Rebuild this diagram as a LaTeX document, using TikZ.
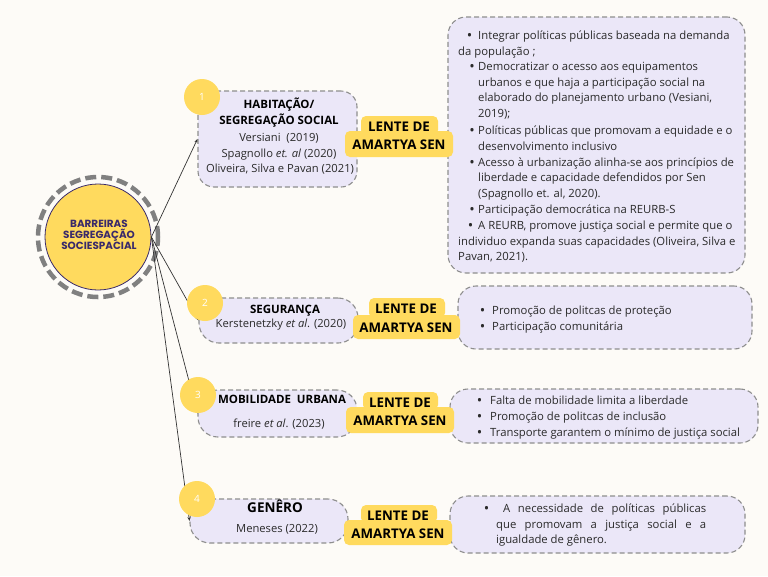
\documentclass[tikz,border=0pt]{standalone}
\usepackage{fontspec}
\setmainfont{Open Sans}
\newfontfamily\popfont{Poppins}
\usetikzlibrary{arrows.meta}
\definecolor{bg}{HTML}{FDFBF7}
\definecolor{lav}{HTML}{EBE7F8}
\definecolor{dashc}{HTML}{8E8E8E}
\definecolor{yel}{HTML}{FFDA5E}
\definecolor{pur}{HTML}{3A2A6A}
\definecolor{ringc}{HTML}{808080}
\definecolor{txt}{HTML}{2A2A2A}
\newcommand\bul[1]{\llap{\raisebox{-0.9pt}{\fontsize{14.5}{14}\selectfont•}\hspace{#1}}}
\tikzset{
  box/.style={rectangle, draw=dashc, dash pattern=on 5pt off 3pt, line width=1.1pt, fill=lav, rounded corners=16pt, inner sep=0},
  num/.style={circle, fill=yel, minimum size=36pt, inner sep=0, text=white, font=\fontsize{10}{12}\selectfont},
  conn/.style={draw=black!80, line width=0.7pt, -{Stealth[length=4pt,width=3pt]}},
  body/.style={font=\fontsize{11.2}{13}\selectfont, text=txt, inner sep=0, anchor=base},
  rb/.style={font=\fontsize{11.3}{13}\selectfont, text=txt, inner sep=0, anchor=base west},
  head/.style={font=\bfseries\fontsize{11.5}{13}\selectfont, text=black, inner sep=0, anchor=base},
  lens/.style={font=\bfseries\fontsize{13.3}{15}\selectfont, text=black, inner sep=0, anchor=base},
  lensfill/.style={fill=yel, rounded corners=5pt},
}
\begin{document}
\begin{tikzpicture}[x=1pt, y=-1pt]
\fill[bg] (0,0) rectangle (768,576);
\useasboundingbox (0,0) rectangle (768,576);

% central circle
\node[circle, fill=yel, draw=pur, line width=0.8pt, minimum size=106pt, inner sep=0] (core) at (98,237) {};
\node[circle, draw=ringc, line width=4.5pt, dash pattern=on 11pt off 5pt, minimum size=120pt, inner sep=0] (ring) at (98,237) {};
\node[font=\popfont\bfseries\fontsize{10.4}{11}\selectfont, text=pur, align=center, inner sep=0] (ctext) at (99,234.5) {BARREIRAS\\SEGREGAÇÃO\\SOCIESPACIAL};

% left boxes
\node[box, minimum width=159pt, minimum height=96pt] (b1) at (277.5,139) {};
\node[box, minimum width=159pt, minimum height=45pt, rounded corners=20pt] (b2) at (278.5,320.5) {};
\node[box, minimum width=159pt, minimum height=47pt, rounded corners=20pt] (b3) at (277.5,413.5) {};
\node[box, minimum width=158pt, minimum height=44pt, rounded corners=20pt] (b4) at (269,521) {};

% right boxes
\node[box, minimum width=297pt, minimum height=256pt, rounded corners=18pt] (r1) at (596.5,145) {};
\node[box, minimum width=294pt, minimum height=63pt, rounded corners=18pt] (r2) at (605,317.5) {};
\node[box, minimum width=308pt, minimum height=54pt, rounded corners=18pt] (r3) at (604,416) {};
\node[box, minimum width=295pt, minimum height=57pt, rounded corners=18pt] (r4) at (597.5,524.5) {};

% connectors
\draw[conn] (core.east) -- (b1.west);
\draw[conn] (core.east) -- (b2.west);
\draw[conn] (core.east) -- (b3.west);
\draw[conn] (core.east) -- (b4.west);

% number circles
\node[num] (n1) at (202,97) {1};
\node[num] (n2) at (205,303) {2};
\node[num] (n3) at (198,395) {3};
\node[num] (n4) at (197,499) {4};

% left box texts
\node[head] (h1a) at (279,108) {HABITAÇÃO/};
\node[head] (h1b) at (279,124) {SEGREGAÇÃO SOCIAL};
\node[body] (t1a) at (279,141) {Versiani \ (2019)};
\node[body] (t1b) at (279,157) {Spagnollo \textit{et. al} (2020)};
\node[body] (t1c) at (280,172) {Oliveira, Silva e Pavan (2021)};

\node[head] (h2) at (285,313) {SEGURANÇA};
\node[body] (t2) at (281,327) {Kerstenetzky \textit{et al}. (2020)};

\node[head] (h3) at (282,403) {MOBILIDADE \ URBANA};
\node[body] (t3) at (279,427) {freire \textit{et al}. (2023)};

\node[head, font=\bfseries\fontsize{13.5}{15}\selectfont] (h4) at (275,512.5) {GENÊRO};
\node[body] (t4) at (277,532) {Meneses (2022)};

% lens shapes
\fill[lensfill] (361,116) rectangle (438,135);
\fill[lensfill] (345,131) rectangle (453,157);
\node[lens] (l1a) at (399,131.6) {LENTE DE};
\node[lens] (l1b) at (399,149.6) {AMARTYA SEN};

\fill[lensfill] (369,298) rectangle (445,318);
\fill[lensfill] (353,315) rectangle (460,339);
\node[lens] (l2a) at (406,313.6) {LENTE DE};
\node[lens] (l2b) at (406,332.6) {AMARTYA SEN};

\fill[lensfill] (363,392) rectangle (438,410);
\fill[lensfill] (346,407) rectangle (454,433);
\node[lens] (l3a) at (400,407.6) {LENTE DE};
\node[lens] (l3b) at (400,425.6) {AMARTYA SEN};

\fill[lensfill] (361,505) rectangle (437,523);
\fill[lensfill] (344,520) rectangle (452,545);
\node[lens] (l4a) at (398,520.6) {LENTE DE};
\node[lens] (l4b) at (398,538.6) {AMARTYA SEN};

% right box 1 text
\node[rb] (p1) at (478,39.5) {\bul{6pt}Integrar políticas públicas baseada na demanda};
\node[rb] (p2) at (458,55.5) {da população ;};
\node[rb] (p3) at (478,70.5) {\bul{3.5pt}Democratizar o acesso aos equipamentos};
\node[rb] (p4) at (478,86.5) {urbanos e que haja a participação social na};
\node[rb] (p5) at (478,101.5) {elaborado do planejamento urbano (Vesiani,};
\node[rb] (p6) at (478,117.5) {2019);};
\node[rb] (p7) at (478,134.5) {\bul{3.5pt}Políticas públicas que promovam a equidade e o};
\node[rb] (p8) at (478,150.5) {desenvolvimento inclusivo};
\node[rb] (p9) at (478,166.5) {\bul{3.5pt}Acesso à urbanização alinha-se aos princípios de};
\node[rb] (p10) at (478,181.5) {liberdade e capacidade defendidos por Sen};
\node[rb] (p11) at (478,197.5) {(Spagnollo et. al, 2020).};
\node[rb] (p12) at (478,213.5) {\bul{3.5pt}Participação democrática na REURB-S};
\node[rb] (p13) at (478,229.5) {\bul{5pt}A REURB, promove justiça social e permite que o};
\node[rb] (p14) at (458,245.5) {individuo expanda suas capacidades (Oliveira, Silva e};
\node[rb] (p15) at (458,260.5) {Pavan, 2021).};

% right box 2 text
\node[rb] (q1) at (492,314.5) {\bul{7pt}Promoção de politcas de proteção};
\node[rb] (q2) at (492,330.5) {\bul{7pt}Participação comunitária};

% right box 3 text
\node[rb] (s1) at (490,404.5) {\bul{8pt}Falta de mobilidade limita a liberdade};
\node[rb] (s2) at (490,420.5) {\bul{8pt}Promoção de politcas de inclusão};
\node[rb] (s3) at (490,436.5) {\bul{8pt}Transporte garantem o mínimo de justiça social};

% right box 4 text
\node[rb] (g1) at (503,512.5) {\bul{14pt}\makebox[203pt][s]{A necessidade de políticas públicas}};
\node[rb] (g2) at (496,528.5) {\makebox[210pt][s]{que promovam a justiça social e a}};
\node[rb] (g3) at (496,543.5) {igualdade de gênero.};
\end{tikzpicture}
\end{document}
